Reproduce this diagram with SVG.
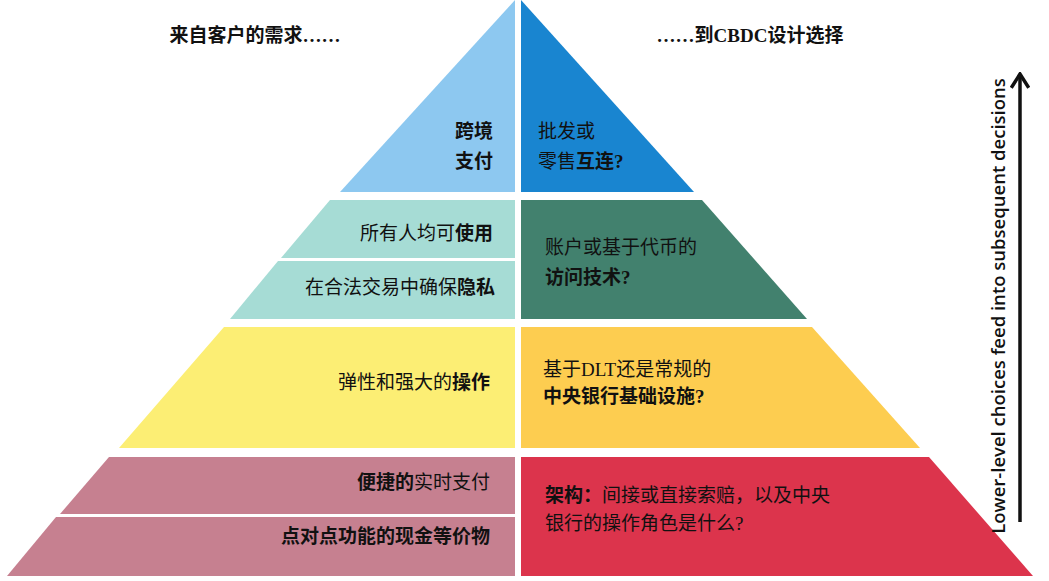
<svg xmlns="http://www.w3.org/2000/svg" width="1049" height="581" viewBox="0 0 1049 581">
<style>
text{font-family:"Liberation Serif","Noto Sans CJK SC",serif;font-size:19px;fill:#111}
.b{font-weight:bold}
.r{text-anchor:end}
.side{font-family:"Open Sans","Liberation Sans",sans-serif;font-size:18.5px;font-weight:600}
</style>
<defs><marker id="ah" markerWidth="20" markerHeight="20" refX="8" refY="2" orient="0" markerUnits="userSpaceOnUse" viewBox="0 0 16 16"><path d="M1,13 L8,2 L15,13" fill="none" stroke="#111" stroke-width="2.8"/></marker></defs>
<rect width="1049" height="581" fill="#fff"/>
<g id="titles">
<text class="b" x="255" y="42" text-anchor="middle">来自客户的需求……</text>
<text class="b" x="750" y="42" text-anchor="middle">……到CBDC设计选择</text>
</g>
<g id="tier1-left"><polygon points="515,0 515,192 340,192" fill="#8dc8f0"/>
<text class="b r" x="493" y="138">跨境</text><text class="b r" x="493" y="168">支付</text></g>
<g id="tier1-right"><polygon points="521,0 521,192 694,192" fill="#1985d0"/>
<text x="538" y="138">批发或</text><text x="538" y="168">零售<tspan class="b">互连?</tspan></text></g>
<g id="tier2-left-a"><polygon points="330,200 515,200 515,258 281,258" fill="#a6dcd5"/>
<text class="r" x="493" y="240">所有人均可<tspan class="b">使用</tspan></text></g>
<g id="tier2-left-b"><polygon points="278,261 515,261 515,319 230,319" fill="#a6dcd5"/>
<text class="r" x="495" y="294">在合法交易中确保<tspan class="b">隐私</tspan></text></g>
<g id="tier2-right"><polygon points="521,200 702,200 807,319 521,319" fill="#42816e"/>
<text x="545" y="254">账户或基于代币的</text><text class="b" x="545" y="284">访问技术?</text></g>
<g id="tier3-left"><polygon points="224,327 515,327 515,448 119,448" fill="#fcee74"/>
<text class="r" x="490" y="389">弹性和强大的<tspan class="b">操作</tspan></text></g>
<g id="tier3-right"><polygon points="521,327 812,327 920,448 521,448" fill="#fdcd50"/>
<text x="543" y="376">基于DLT还是常规的</text><text class="b" x="543" y="403">中央银行基础设施?</text></g>
<g id="tier4-left-a"><polygon points="109,457 515,457 515,514 60,514" fill="#c68090"/>
<text class="r" x="490" y="489"><tspan class="b">便捷的</tspan>实时支付</text></g>
<g id="tier4-left-b"><polygon points="56,517 515,517 515,576 7,576" fill="#c68090"/>
<text class="b r" x="490" y="543">点对点功能的现金等价物</text></g>
<g id="tier4-right"><polygon points="521,457 929,457 1033,576 521,576" fill="#dc344c"/>
<text x="545" y="502"><tspan class="b">架构：</tspan>间接或直接索赔，以及中央</text><text x="545" y="530">银行的操作角色是什么?</text></g>
<g id="connectors">
<path d="M1020,522 V74" fill="none" stroke="#111" stroke-width="3.5" marker-end="url(#ah)"/>
</g>
<text class="side" transform="translate(1005,306) rotate(-90)" text-anchor="middle">Lower-level choices feed into subsequent decisions</text>
</svg>
